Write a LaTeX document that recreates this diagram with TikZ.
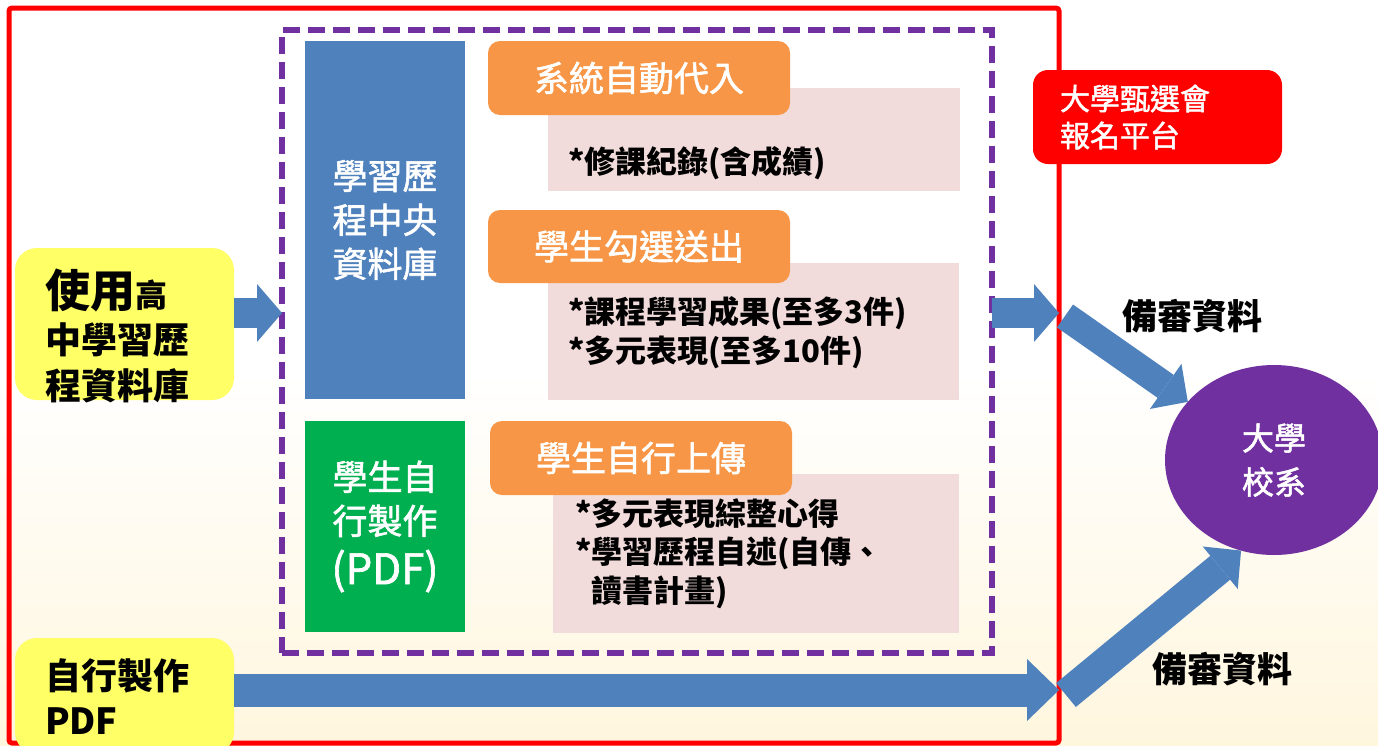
\documentclass[tikz,border=0pt]{standalone}
\usepackage{fontspec}
\setmainfont{Noto Sans CJK TC}
\newfontfamily\medfont[FakeBold=1.6]{Noto Sans CJK TC}
\usetikzlibrary{arrows.meta,shapes.geometric}
\definecolor{dbblue}{HTML}{4F81BD}
\definecolor{owngreen}{HTML}{00B050}
\definecolor{tagorange}{HTML}{F79646}
\definecolor{notepink}{HTML}{F2DCDB}
\definecolor{srcyellow}{HTML}{FFFF66}
\definecolor{unipurple}{HTML}{7030A0}
\definecolor{bgcream}{HTML}{FFF6DE}
\begin{document}
\begin{tikzpicture}[x=1pt,y=-1pt,
	every node/.style={inner sep=0pt,outer sep=0pt},
	panel/.style={rectangle,minimum width=160pt,text=white,align=center,font=\medfont\fontsize{35}{44}\selectfont},
	tag/.style={rectangle,rounded corners=12pt,fill=tagorange,minimum width=302pt,minimum height=74pt,text=white,font=\medfont\fontsize{35}{44}\selectfont},
	note/.style={rectangle,fill=notepink},
	notetext/.style={anchor=west,align=left,font=\bfseries\fontsize{31}{38.5}\selectfont},
	source/.style={rectangle,rounded corners=22pt,fill=srcyellow,minimum width=219pt},
	sourcetext/.style={anchor=west,align=left,font=\bfseries\fontsize{36}{46}\selectfont},
	review/.style={font=\bfseries\fontsize{35}{44}\selectfont},
	flow/.style={draw=dbblue,line width=30pt,-{Triangle[length=25pt,width=58pt,line width=0pt]}}]
				\useasboundingbox (0,0) rectangle (1378,745);
				\shade [top color=white,bottom color=bgcream,middle color=white] (0,0) rectangle (1378,745);
				\node [draw=red,line width=5pt,rounded corners=3pt,minimum width=1050pt,minimum height=735pt] (frame) at (534,375.5) {};
				\node [draw=unipurple,line width=5.5pt,dash pattern=on 17pt off 8pt,minimum width=710pt,minimum height=623pt] (platform) at (637,341.5) {};
				\node [panel,fill=dbblue,minimum height=358pt] (db) at (385,220) {學習歷\\程中央\\資料庫};
				\node [panel,fill=owngreen,minimum height=211pt] (own) at (385,526.5) {學生自\\行製作\\[6pt]{\fontsize{42}{50}\selectfont (PDF)}};
				\node [note,minimum width=412pt,minimum height=103pt] (note1) at (754,139.5) {};
				\node [note,minimum width=411pt,minimum height=137pt] (note2) at (753.5,331.5) {};
				\node [note,minimum width=406pt,minimum height=159pt] (note3) at (756,553.5) {};
				\node [tag] (tag1) at (639,78) {系統自動代入};
				\node [tag,minimum height=73pt] (tag2) at (639,246.5) {學生勾選送出};
				\node [tag] (tag3) at (641,458) {學生自行上傳};
				\node [notetext] (note1txt) at (568,163) {*修課紀錄(含成績)};
				\node [notetext] (note2txt) at (568,332.5) {*課程學習成果(至多3件)\\*多元表現(至多10件)};
				\node [notetext] (note3txt) at (575,553.5) {*多元表現綜整心得\\*學習歷程自述(自傳、\\\hphantom{*}讀書計畫)};
				\node [source,minimum height=152pt] (src1) at (124.5,324) {};
				\node [sourcetext] (src1txt) at (45,336) {{\fontsize{45}{50}\selectfont 使用}{\fontsize{32}{40}\selectfont 高}\\中學習歷\\程資料庫};
				\node [source,minimum height=116pt] (src2) at (124.5,696) {};
				\node [sourcetext,font=\bfseries\fontsize{36}{45}\selectfont] (src2txt) at (45,697) {自行製作\\PDF};
				\node [rectangle,rounded corners=15pt,fill=red,minimum width=249pt,minimum height=94pt,text width=195pt,align=left,text=white,font=\medfont\fontsize{30}{37}\selectfont] (apply) at (1157.5,117) {大學甄選會\\報名平台};
				\node [ellipse,fill=unipurple,minimum width=218pt,minimum height=190pt,text=white,align=center,font=\medfont\fontsize{32}{44}\selectfont] (uni) at (1274,460) {大學\\校系};
				\node [review] (review1) at (1192,316) {備審資料};
				\node [review] (review2) at (1222,669) {備審資料};
				\coordinate (d1) at (1065,316);
				\coordinate (d2) at (1066,695);
				\draw [flow] (src1.east |- 0,313) -- (platform.west |- 0,313);
				\draw [flow] (platform.east |- 0,313) -- (frame.east |- 0,313);
				\draw [flow,line width=33pt,-{Triangle[length=32pt,width=62pt,line width=0pt]}] (src2.east |- 0,690) -- (frame.east |- 0,690);
				\draw [flow,line width=28pt,-{Triangle[length=27pt,width=55pt,line width=0pt]}] (d1) -- (uni.146);
				\draw [flow,line width=31pt,-{Triangle[length=27pt,width=55pt,line width=0pt]}] (d2) -- (uni.250);
\end{tikzpicture}
\end{document}
